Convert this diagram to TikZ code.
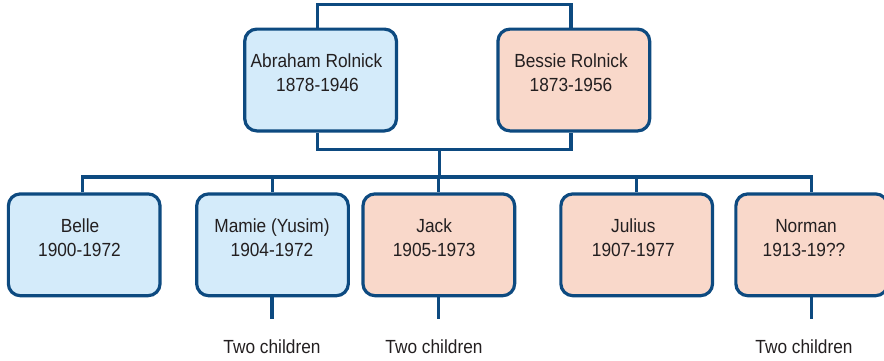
\documentclass[tikz,border=0pt]{standalone}
\usepackage{fontspec}
\setmainfont{Liberation Sans}[FakeStretch=0.91]
\definecolor{edge}{HTML}{0D4A80}
\definecolor{boyfill}{HTML}{D4EBFA}
\definecolor{girlfill}{HTML}{F9D8CA}
\definecolor{ink}{HTML}{231F20}
\tikzset{
  person/.style={draw=edge, line width=3.2pt, rounded corners=12pt,
    minimum width=151.7pt, minimum height=101.8pt, inner sep=0pt},
  blue/.style={person, fill=boyfill},
  pink/.style={person, fill=girlfill},
  wire/.style={draw=edge, line width=3.2pt},
  lbl/.style={text=ink, font=\fontsize{19}{24}\selectfont, anchor=base, inner sep=0pt},
}
\begin{document}
\begin{tikzpicture}[x=1pt, y=-1pt]
\useasboundingbox (0,0) rectangle (884,360);
\clip (0,0) rectangle (884,360);

% parents
\node[blue] (abe) at (320.6,80) {};
\node[pink] (bes) at (573.8,80) {};
\node[lbl] (abeN) at (316.5,67.7) {Abraham Rolnick};
\node[lbl] (abeY) at (317.5,91.7) {1878-1946};
\node[lbl] (besN) at (571,67.7) {Bessie Rolnick};
\node[lbl] (besY) at (571,91.7) {1873-1956};

% children
\node[blue] (belle) at (84.2,244.8) {};
\node[blue] (mamie) at (272.5,244.8) {};
\node[pink] (jack) at (438.8,244.8) {};
\node[pink] (julius) at (636.7,244.8) {};
\node[pink] (norman) at (811.7,244.8) {};

\node[lbl] at (80,232.7) {Belle};
\node[lbl] at (79.5,256.7) {1900-1972};
\node[lbl] at (272,232.7) {Mamie (Yusim)};
\node[lbl] at (272,256.7) {1904-1972};
\node[lbl] at (434.2,232.7) {Jack};
\node[lbl] at (434.2,256.7) {1905-1973};
\node[lbl] at (633.3,232.7) {Julius};
\node[lbl] at (633.3,256.7) {1907-1977};
\node[lbl] at (806,232.7) {Norman};
\node[lbl] at (804,256.7) {1913-19??};

% grandchildren notes
\node[lbl] (mamieK) at (272,353) {Two children};
\node[lbl] (jackK) at (434,353) {Two children};
\node[lbl] (normanK) at (804,353) {Two children};

% marriage bracket above the parents
\draw[wire] ([xshift=-2.9pt]abe.north) -- ++(0,-22.8) -| ([xshift=-2.8pt]bes.north);

% descent bracket below the parents
\draw[wire] ([xshift=-2.9pt]abe.south) -- ++(0,17) -| ([xshift=-2.8pt]bes.south);
\coordinate (hub) at (439.3,148);
\coordinate (rail) at (439.3,177);
\draw[wire] (hub) -- (rail);

% sibling rail
\draw[wire] ([xshift=-1.7pt]belle.north) |- (rail) -| ([xshift=-0.4pt]norman.north);
\draw[wire] (mamie.north |- rail) -- (mamie.north);
\draw[wire] (jack.north |- rail) -- (jack.north);
\draw[wire] (julius.north |- rail) -- (julius.north);

% lines down to the grandchildren notes
\coordinate (mamieEnd) at (272,319.3);
\coordinate (jackEnd) at (438.7,319.3);
\coordinate (normanEnd) at (811.3,319.3);
\draw[wire] (mamieEnd |- mamie.south) -- (mamieEnd);
\draw[wire] (jackEnd |- jack.south) -- (jackEnd);
\draw[wire] (normanEnd |- norman.south) -- (normanEnd);
\end{tikzpicture}
\end{document}
